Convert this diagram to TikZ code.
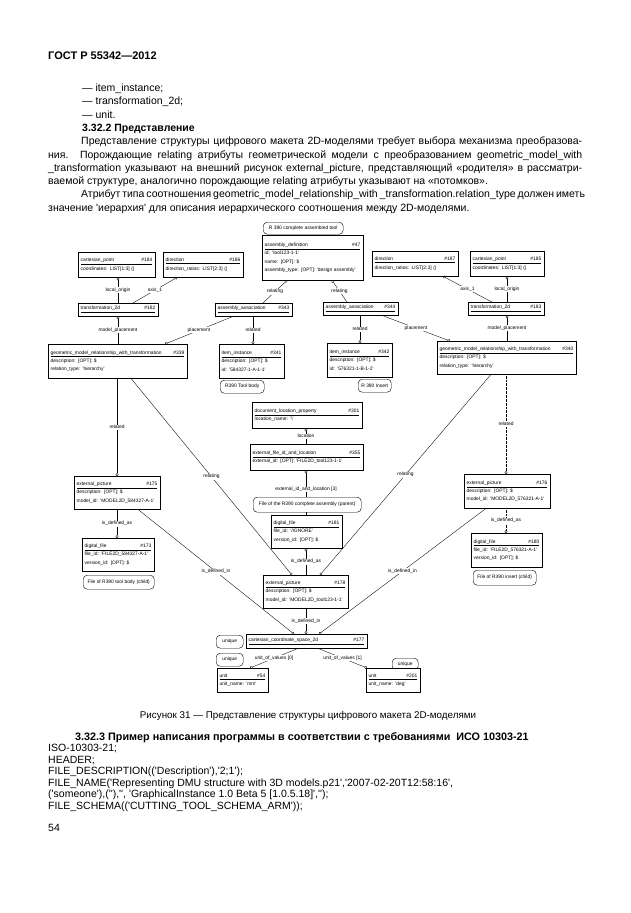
\documentclass[tikz,border=0pt]{standalone}
\usepackage{fontspec}
\setmainfont{Liberation Sans}[Ligatures=TeXOff]
\usetikzlibrary{arrows.meta}
\newcommand\dfont{\fontsize{4.9}{8.2}\selectfont}
\newcommand\bfont{\fontsize{10.5}{13}\selectfont}
\newcommand\etitle[2]{\underline{\hbox to\hsize{#1\hfill\##2}}}
\begin{document}
\begin{tikzpicture}[x=1pt,y=-1pt,
  ent/.style={draw, line width=0.4pt, fill=white, anchor=north west, inner xsep=2.5pt, inner ysep=1.5pt, align=left, font=\dfont,
    path picture={\fill (path picture bounding box.south east) -- ++(-4pt,0pt) -- ++(4pt,4pt) -- cycle;}},
  pill/.style={draw, line width=0.4pt, rounded corners=4pt, fill=white, anchor=north west, inner sep=0pt, align=center, font=\dfont},
  lab/.style={fill=white, inner sep=0.6pt, font=\dfont},
  conn/.style={draw, line width=0.35pt},
  co/.style={arrows={Circle[open,length=2.8pt,width=2.8pt]-}},
  oc/.style={arrows={-Circle[open,length=2.8pt,width=2.8pt]}},
  body/.style={anchor=base west, inner sep=0pt, font=\bfont},
]
\fill[white] (0,0) rectangle (630,913);
\useasboundingbox (0,0) rectangle (630,913);

% ---------- text above ----------
\node[body, font=\fontsize{11}{13}\bfseries] (hdr) at (48,59.5) {ГОСТ Р 55342—2012};
\node[body] (l1) at (82,91.5) {— item\_instance;};
\node[body] (l2) at (82,104.8) {— transformation\_2d;};
\node[body] (l3) at (82,118.1) {— unit.};
\node[body, font=\bfont\bfseries] (l4) at (82,131.4) {3.32.2 Представление};
\node[body] (p1) at (81,144.7) {\makebox[501pt][s]{Представление структуры цифрового макета 2D-моделями требует выбора механизма преобразова-}};
\node[body] (p2) at (48,158) {\makebox[534pt][s]{ния. Порождающие relating атрибуты геометрической модели с преобразованием geometric\_model\_with}};
\node[body] (p3) at (48,171.3) {\makebox[534pt][s]{\_transformation указывают на внешний рисунок external\_picture, представляющий «родителя» в рассматри-}};
\node[body] (p4) at (48,184.6) {ваемой структуре, аналогично порождающие relating атрибуты указывают на «потомков».};
\node[body] (p5) at (81,197.9) {\makebox[501pt][s]{Атрибут типа соотношения geometric\_model\_relationship\_with \_transformation.relation\_type должен иметь}};
\node[body] (p6) at (48,211.2) {значение 'иерархия' для описания иерархического соотношения между 2D-моделями.};

% ---------- diagram: entities ----------
\node[pill, minimum width=80pt, minimum height=12pt] (ptool) at (263,222) {R 390 complete assembled tool};
\node[ent, minimum height=45pt, text width=95.6pt] (n47) at (262,235) {\etitle{assembly\_definition}{47}\\id: 'tool123-1-1'\\name: [OPT]: \$\\assembly\_type: [OPT]: 'design assembly'};
\node[ent, minimum height=25pt, text width=71.6pt] (n184) at (78,252) {\etitle{cartesian\_point}{184}\\coordinates: LIST[1:3] ()};
\node[ent, minimum height=25pt, text width=74.6pt] (n186) at (163,252) {\etitle{direction}{186}\\direction\_ratios: LIST[2:3] ()};
\node[ent, minimum height=25pt, text width=80.6pt] (n187) at (372,251) {\etitle{direction}{187}\\direction\_ratios: LIST[2:3] ()};
\node[ent, minimum height=25pt, text width=68.6pt] (n185) at (470,251) {\etitle{cartesian\_point}{185}\\coordinates: LIST[1:3] ()};

\node[ent, minimum height=13pt, text width=74.6pt] (n182) at (78,303) {\etitle{transformation\_2d}{182}};
\node[ent, minimum height=13pt, text width=71.6pt] (n343) at (215,303) {\etitle{assembly\_association}{343}};
\node[ent, minimum height=13pt, text width=69.6pt] (n344) at (323,302) {\etitle{assembly\_association}{344}};
\node[ent, minimum height=13pt, text width=70.6pt] (n183) at (468,302) {\etitle{transformation\_2d}{183}};

\node[ent, minimum height=34pt, text width=133.6pt] (n339) at (48,344) {\etitle{geometric\_model\_relationship\_with\_transformation}{339}\\description: [OPT]: \$\\relation\_type: 'hierarchy'};
\node[ent, minimum height=34pt, text width=59.6pt] (n341) at (219,344) {\etitle{item\_instance}{341}\\description: [OPT]: \$\\id: '584327-1-A-1-1'};
\node[ent, minimum height=34pt, text width=59.6pt] (n342) at (327,343) {\etitle{item\_instance}{342}\\description: [OPT]: \$\\id: '576321-1-B-1-2'};
\node[ent, minimum height=33pt, text width=133.6pt] (n340) at (437,341) {\etitle{geometric\_model\_relationship\_with\_transformation}{340}\\description: [OPT]: \$\\relation\_type: 'hierarchy'};
\node[pill, minimum width=44pt, minimum height=13pt] (pbody) at (220,380) {R390 Tool body};
\node[pill, minimum width=33pt, minimum height=13pt] (pins) at (358,379) {R 390 Insert};

\node[ent, minimum height=26pt, text width=104.6pt] (n301) at (252,402) {\etitle{document\_location\_property}{301}\\location\_name: '\textbackslash'};
\node[ent, minimum height=26pt, text width=107.6pt] (n355) at (250,444) {\etitle{external\_file\_id\_and\_location}{355}\\external\_id: [OPT]: 'FILE2D\_tool123-1-1'};
\node[pill, minimum width=108pt, minimum height=15pt] (ppar) at (253,497) {File of the R390 complete assembly (parent)};
\node[ent, minimum height=33pt, text width=65.6pt] (n181) at (271,515) {\etitle{digital\_file}{181}\\file\_id: '/IGNORE'\\version\_id: [OPT]: \$};
\node[ent, minimum height=33pt, text width=79.6pt] (n178) at (263,575) {\etitle{external\_picture}{178}\\description: [OPT]: \$\\model\_id: 'MODEL2D\_tool123-1-1'};
\node[ent, minimum height=14pt, text width=115.6pt] (n177) at (246,634) {\etitle{cartesian\_coordinate\_space\_2d}{177}};
\node[pill, minimum width=27pt, minimum height=13pt] (u1) at (216,635) {unique};
\node[pill, minimum width=27pt, minimum height=13pt] (u2) at (216,653) {unique};
\node[pill, minimum width=26pt, minimum height=12pt] (u3) at (392,658) {unique};
\node[ent, minimum height=24pt, text width=45.6pt] (n54) at (217,668) {\etitle{unit}{54}\\unit\_name: 'mm'};
\node[ent, minimum height=24pt, text width=48.6pt] (n201) at (366,668) {\etitle{unit}{201}\\unit\_name: 'deg'};

\node[ent, minimum height=33pt, text width=80.6pt] (n175) at (74,476) {\etitle{external\_picture}{175}\\description: [OPT]: \$\\model\_id: 'MODEL2D\_584327-A-1'};
\node[ent, minimum height=33pt, text width=66.6pt] (n173) at (82,538) {\etitle{digital\_file}{173}\\file\_id: 'FILE2D\_584327-A-1'\\version\_id: [OPT]: \$};
\node[pill, minimum width=71pt, minimum height=14pt] (pbf) at (83,575) {File of R390 tool body (child)};

\node[ent, minimum height=34pt, text width=80.6pt] (n176) at (464,474) {\etitle{external\_picture}{176}\\description: [OPT]: \$\\model\_id: 'MODEL2D\_576321-A-1'};
\node[ent, minimum height=34pt, text width=65.6pt] (n180) at (471,533) {\etitle{digital\_file}{180}\\file\_id: 'FILE2D\_576321-A-1'\\version\_id: [OPT]: \$};
\node[pill, minimum width=63pt, minimum height=15pt] (pif) at (473,570) {File of R390 insert (child)};

% ---------- connectors ----------
\draw[conn, co] (118,0 |- n184.south) -- node[lab]{local\_origin} (118,0 |- n182.north);
\draw[conn, co] (177,0 |- n186.south) -- node[lab]{axis\_1} (133,0 |- n182.north);
\draw[conn, co] (287,0 |- n47.south) -- node[lab]{relating} (263,0 |- n343.north);
\draw[conn, co] (332,0 |- n47.south) -- node[lab]{relating} (347,0 |- n344.north);
\draw[conn, co] (443,0 |- n187.south) -- node[lab]{axis\_1} (492,0 |- n183.north);
\draw[conn, co] (507,0 |- n185.south) -- node[lab]{local\_origin} (507,0 |- n183.north);

\draw[conn, co] (118,0 |- n182.south) -- node[lab]{model\_placement} (118,0 |- n339.north);
\draw[conn, oc] (233,0 |- n343.south) -- node[lab]{placement} (165,0 |- n339.north);
\draw[conn, oc] (253,0 |- n343.south) -- node[lab]{related} (253,0 |- n341.north);
\draw[conn, oc] (360,0 |- n344.south) -- node[lab]{related} (360,0 |- n342.north);
\draw[conn, oc] (382,0 |- n344.south) -- node[lab]{placement} (450,0 |- n340.north);
\draw[conn, co] (507,0 |- n183.south) -- node[lab]{model\_placement} (507,0 |- n340.north);

\draw[conn, oc] (117,0 |- n339.south) -- node[lab]{related} (117,0 |- n175.north);
\draw[conn, oc] (131,0 |- n339.south) -- node[lab]{relating} (292,0 |- n178.north);
\draw[conn, oc] (491,0 |- n340.south) -- node[lab]{relating} (320,0 |- n178.north);
\draw[conn, oc, densely dotted] (506,0 |- n340.south) -- node[lab]{related} (506,0 |- n176.north);

\draw[conn, co] (306,0 |- n301.south) -- node[lab]{location} (306,0 |- n355.north);
\draw[conn, co] (306,0 |- n355.south) -- node[lab, pos=0.72]{external\_id\_and\_location [3]} (306,0 |- ppar.north);
\draw[conn] (306,0 |- ppar.south) -- (306,0 |- n181.north);
\draw[conn, co] (306,0 |- n181.south) -- node[lab]{is\_defined\_as} (306,0 |- n178.north);
\draw[conn, oc] (306,0 |- n178.south) -- node[lab]{is\_defined\_in} (306,0 |- n177.north);
\draw[conn, oc] (138,0 |- n175.south) -- node[lab]{is\_defined\_in} (294,0 |- n177.north);
\draw[conn, oc] (486,0 |- n176.south) -- node[lab]{is\_defined\_in} (319,0 |- n177.north);
\draw[conn, oc] (117,0 |- n175.south) -- node[lab]{is\_defined\_as} (117,0 |- n173.north);
\draw[conn, oc, densely dotted] (506,0 |- n176.south) -- node[lab]{is\_defined\_as} (506,0 |- n180.north);
\draw[conn, oc] (298,0 |- n177.south) -- node[lab]{unit\_of\_values [0]} (250,0 |- n54.north);
\draw[conn, oc] (318,0 |- n177.south) -- node[lab]{unit\_of\_values [1]} (367,0 |- n201.north);

% ---------- text below ----------
\node[anchor=base, inner sep=0pt, font=\fontsize{9.8}{12}\selectfont] (cap) at (308,718) {Рисунок 31 — Представление структуры цифрового макета 2D-моделями};
\node[body, font=\fontsize{10.8}{13}\bfseries] (h3) at (75,740.4) {3.32.3 Пример написания программы в соответствии с требованиями~ ИСО 10303-21};
\node[body] (c1) at (48,751.9) {ISO-10303-21;};
\node[body] (c2) at (48,763.4) {HEADER;};
\node[body] (c3) at (48,774.9) {FILE\_DESCRIPTION(('Description'),'2;1');};
\node[body] (c4) at (48,786.4) {FILE\_NAME('Representing DMU structure with 3D models.p21','2007-02-20T12:58:16',};
\node[body] (c5) at (48,797.9) {('someone'),(''),'', 'GraphicalInstance 1.0 Beta 5 [1.0.5.18]','');};
\node[body] (c6) at (48,809.4) {FILE\_SCHEMA(('CUTTING\_TOOL\_SCHEMA\_ARM'));};
\node[body] (pg) at (48,831.5) {54};
\end{tikzpicture}
\end{document}
